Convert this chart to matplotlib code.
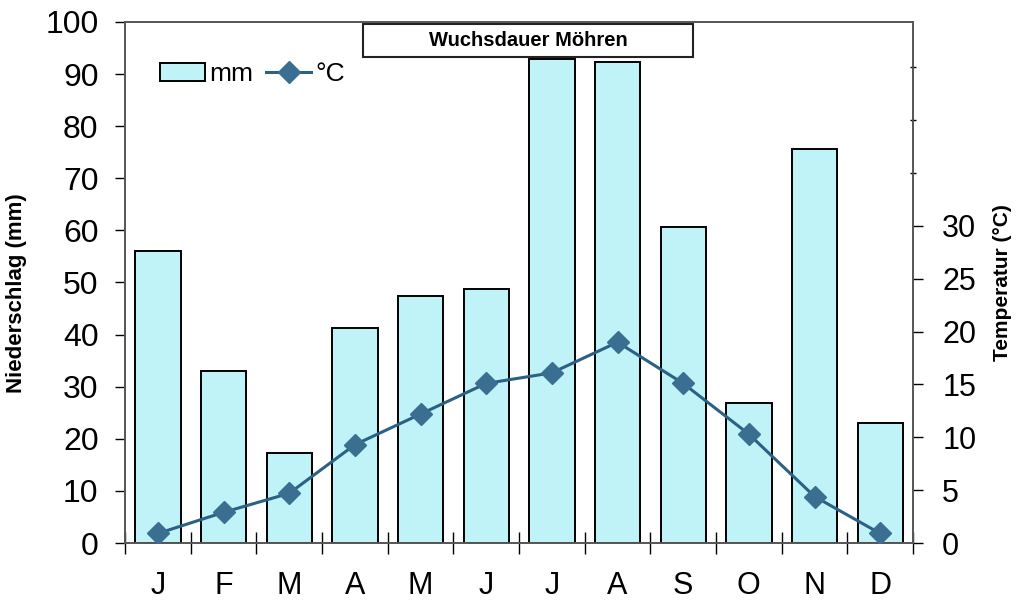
import matplotlib.pyplot as plt
from matplotlib.patches import Rectangle

plt.rcParams["font.family"] = ["Liberation Sans", "DejaVu Sans"]

months = ["J", "F", "M", "A", "M", "J", "J", "A", "S", "O", "N", "D"]
niederschlag = [56.0, 33.0, 17.3, 41.3, 47.4, 48.8, 92.8, 92.4, 60.7, 26.9, 75.7, 23.0]
temperatur = [0.9, 2.9, 4.7, 9.3, 12.2, 15.1, 16.1, 19.0, 15.1, 10.3, 4.4, 0.9]

bar_color = "#bff3f7"
line_color = "#2a6185"
marker_color = "#3a6f92"

fig = plt.figure(figsize=(10.18, 6.02), dpi=100)
ax = fig.add_axes([0.1228, 0.098, 0.7741, 0.8655])
x = list(range(len(months)))

bars = ax.bar(x, niederschlag, width=0.69, color=bar_color, edgecolor="black",
              linewidth=1.4, label="mm", zorder=2)
ax.set_xlim(-0.5, 11.5)
ax.set_ylim(0, 100)
ax.set_yticks(range(0, 101, 10))
ax.tick_params(axis="y", direction="out", length=7, width=1, pad=12, labelsize=23)
ax.set_xticks([i - 0.5 for i in range(13)])
ax.set_xticklabels([])
ax.tick_params(axis="x", which="major", direction="inout", length=16, width=1)
ax.set_xticks(x, minor=True)
ax.set_xticklabels(months, minor=True)
ax.tick_params(axis="x", which="minor", length=0, pad=20, labelsize=22)
ax.set_ylabel("Niederschlag (mm)", fontsize=16, fontweight="bold")
ax.yaxis.set_label_coords(-0.124, 0.48)
for sp in ax.spines.values():
    sp.set_color("#555555")
    sp.set_linewidth(1.2)

ax2 = ax.twinx()
line, = ax2.plot(x, temperatur, color=line_color, linewidth=2.2, marker="D",
                 markersize=11, markerfacecolor=marker_color, markeredgecolor=marker_color,
                 label="°C", zorder=3)
ax2.set_ylim(0, 49.3)
ax2.set_yticks(range(0, 31, 5))
ax2.set_yticks([35, 40, 45], minor=True)
ax2.tick_params(axis="y", which="major", direction="out", length=7, width=1, pad=14, labelsize=22)
ax2.tick_params(axis="y", which="minor", direction="inout", length=4, width=1)
ax2.set_ylabel("Temperatur (°C)", fontsize=15, fontweight="bold")
ax2.yaxis.set_label_coords(1.101, 0.50)
for sp in ax2.spines.values():
    sp.set_color("#555555")
    sp.set_linewidth(1.2)

# title box across the growing period
ax.add_patch(Rectangle((0.302, 0.933), 0.419, 0.063, transform=ax.transAxes,
                       facecolor="white", edgecolor="#222222", linewidth=1.5,
                       zorder=5, clip_on=False))
ax.text(0.5115, 0.964, "Wuchsdauer Möhren", transform=ax.transAxes, ha="center",
        va="center", fontsize=14.5, fontweight="bold", zorder=6)

ax.legend([bars, line], ["mm", "°C"], loc="center left", bbox_to_anchor=(0.045, 0.9),
          ncol=2, frameon=False, fontsize=19, handlelength=1.7, handletextpad=0.15,
          columnspacing=0.5, borderaxespad=0, borderpad=0)

fig.savefig("out.png", dpi=100)
